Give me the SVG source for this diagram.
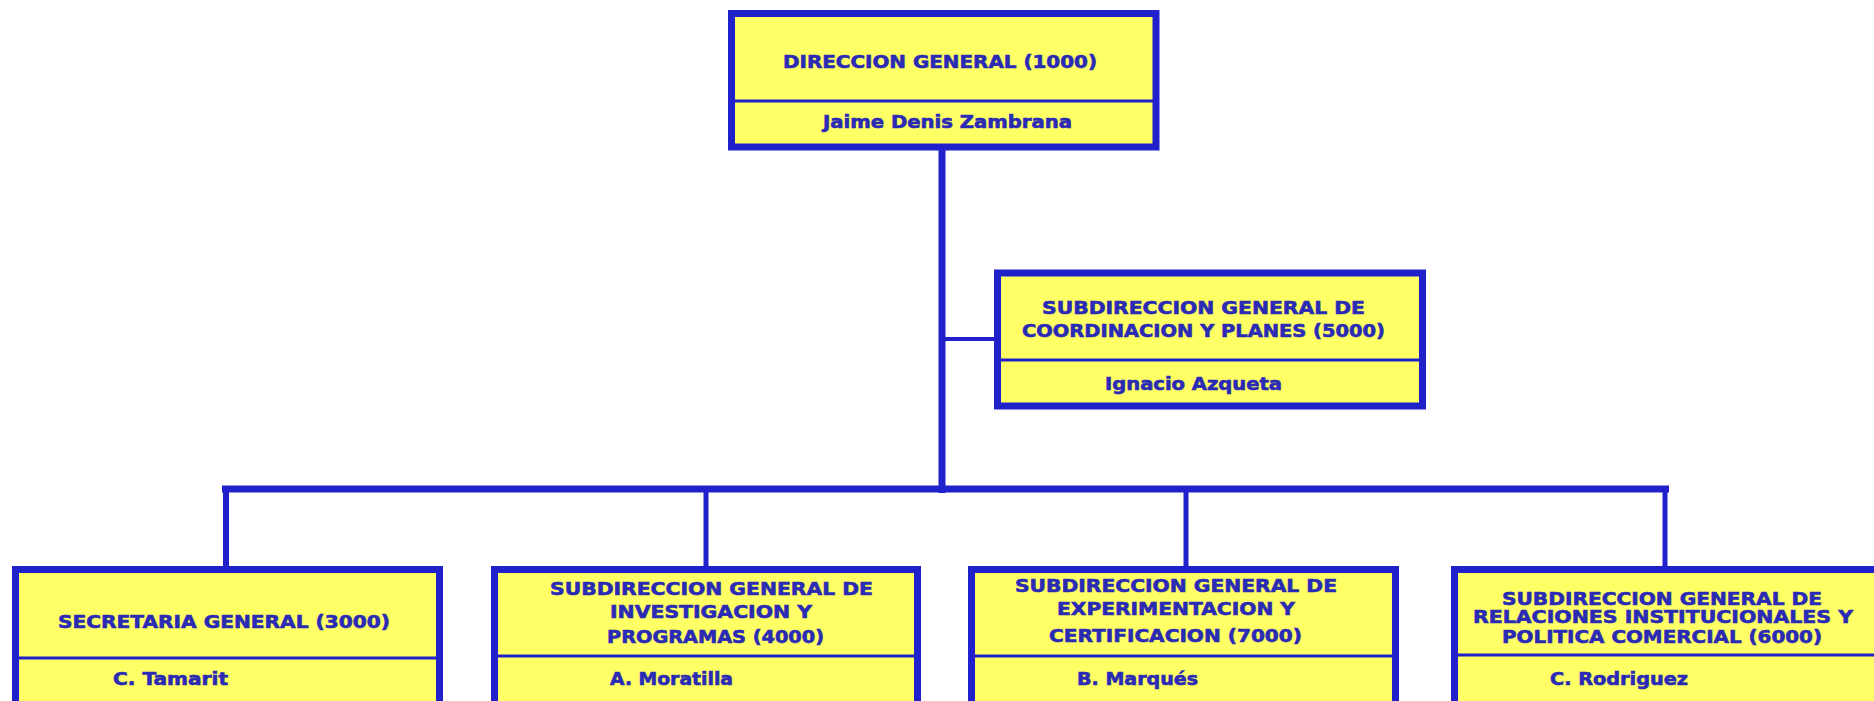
<svg xmlns="http://www.w3.org/2000/svg" width="1874" height="701" viewBox="0 0 1874 701">
<style>
.box{fill:#ffff66;stroke:#2121cc;stroke-width:7}
.div{stroke:#2121cc;stroke-width:3}
.ln{stroke:#2121cc;fill:none}
.t{font-family:"DejaVu Sans","Liberation Sans",sans-serif;font-weight:bold;font-size:17px;fill:#2a2ab4;stroke:#2a2ab4;stroke-width:0.6}
</style>
<rect width="1874" height="701" fill="#ffffff"/>
<g id="connectors">
<line class="ln" x1="942" y1="148" x2="942" y2="493" stroke-width="7"/>
<line class="ln" x1="942" y1="339" x2="996" y2="339" stroke-width="4"/>
<line class="ln" x1="222" y1="489" x2="1669" y2="489" stroke-width="7"/>
<line class="ln" x1="226" y1="486" x2="226" y2="568" stroke-width="6"/>
<line class="ln" x1="706" y1="489" x2="706" y2="568" stroke-width="5"/>
<line class="ln" x1="1186" y1="489" x2="1186" y2="568" stroke-width="5"/>
<line class="ln" x1="1665" y1="486" x2="1665" y2="568" stroke-width="5"/>
</g>
<g id="n1000">
<rect class="box" x="731.5" y="13.5" width="424.5" height="133.5"/>
<line class="div" x1="735" y1="101" x2="1153" y2="101"/>
<text class="t" x="783" y="68" textLength="314" lengthAdjust="spacingAndGlyphs">DIRECCION GENERAL (1000)</text>
<text class="t" x="823" y="128" textLength="249" lengthAdjust="spacingAndGlyphs">Jaime Denis Zambrana</text>
</g>
<g id="n5000">
<rect class="box" x="997.5" y="273" width="425" height="133"/>
<line class="div" x1="1001" y1="360" x2="1419" y2="360"/>
<text class="t" x="1042" y="314" textLength="323" lengthAdjust="spacingAndGlyphs">SUBDIRECCION GENERAL DE</text>
<text class="t" x="1022" y="337" textLength="363" lengthAdjust="spacingAndGlyphs">COORDINACION Y PLANES (5000)</text>
<text class="t" x="1105" y="390" textLength="177" lengthAdjust="spacingAndGlyphs">Ignacio Azqueta</text>
</g>
<g id="n3000">
<rect class="box" x="15.5" y="569.5" width="424" height="140"/>
<line class="div" x1="19" y1="658" x2="436" y2="658"/>
<text class="t" x="58" y="628" textLength="332" lengthAdjust="spacingAndGlyphs">SECRETARIA GENERAL (3000)</text>
<text class="t" x="113" y="685" textLength="115" lengthAdjust="spacingAndGlyphs">C. Tamarit</text>
</g>
<g id="n4000">
<rect class="box" x="494.5" y="569.5" width="423" height="140"/>
<line class="div" x1="498" y1="656" x2="914" y2="656"/>
<text class="t" x="550" y="595" textLength="323" lengthAdjust="spacingAndGlyphs">SUBDIRECCION GENERAL DE</text>
<text class="t" x="610" y="618" textLength="202" lengthAdjust="spacingAndGlyphs">INVESTIGACION Y</text>
<text class="t" x="607" y="643" textLength="217" lengthAdjust="spacingAndGlyphs">PROGRAMAS (4000)</text>
<text class="t" x="610" y="685" textLength="123" lengthAdjust="spacingAndGlyphs">A. Moratilla</text>
</g>
<g id="n7000">
<rect class="box" x="971.5" y="569.5" width="424" height="140"/>
<line class="div" x1="975" y1="656" x2="1392" y2="656"/>
<text class="t" x="1015" y="592" textLength="322" lengthAdjust="spacingAndGlyphs">SUBDIRECCION GENERAL DE</text>
<text class="t" x="1057" y="615" textLength="238" lengthAdjust="spacingAndGlyphs">EXPERIMENTACION Y</text>
<text class="t" x="1049" y="642" textLength="253" lengthAdjust="spacingAndGlyphs">CERTIFICACION (7000)</text>
<text class="t" x="1077" y="685" textLength="121" lengthAdjust="spacingAndGlyphs">B. Marqués</text>
</g>
<g id="n6000">
<rect class="box" x="1454.5" y="569.5" width="424" height="140"/>
<line class="div" x1="1458" y1="655" x2="1875" y2="655"/>
<text class="t" x="1502" y="605" textLength="320" lengthAdjust="spacingAndGlyphs">SUBDIRECCION GENERAL DE</text>
<text class="t" x="1473" y="623" textLength="380" lengthAdjust="spacingAndGlyphs">RELACIONES INSTITUCIONALES Y</text>
<text class="t" x="1502" y="643" textLength="320" lengthAdjust="spacingAndGlyphs">POLITICA COMERCIAL (6000)</text>
<text class="t" x="1550" y="685" textLength="138" lengthAdjust="spacingAndGlyphs">C. Rodriguez</text>
</g>
</svg>
